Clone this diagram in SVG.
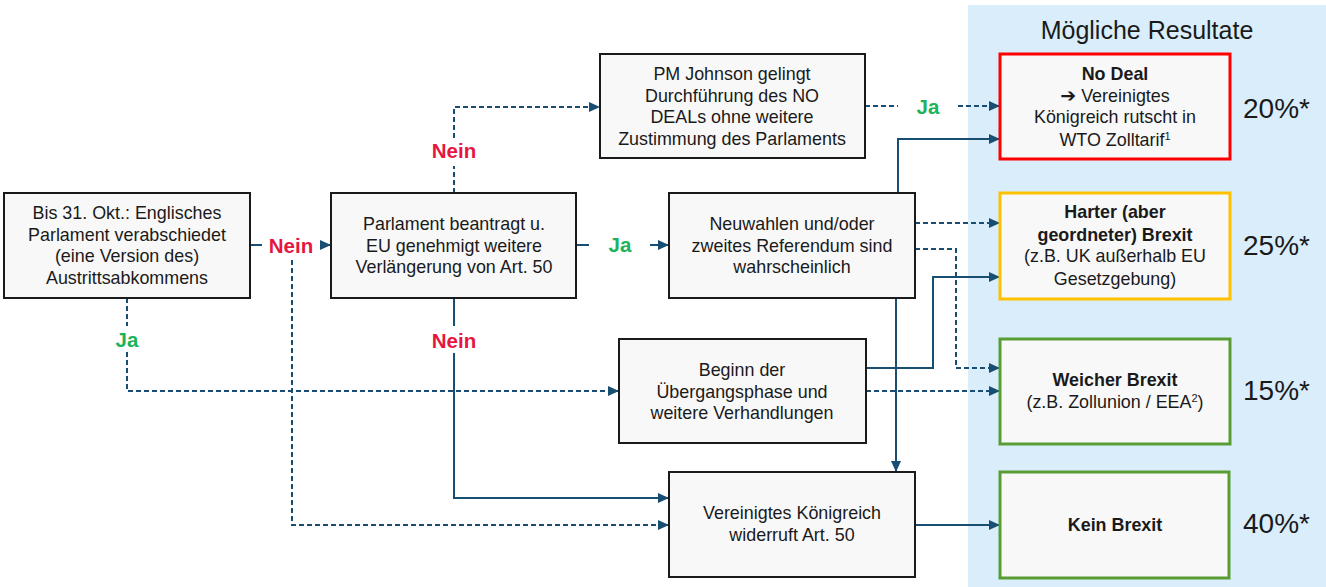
<svg xmlns="http://www.w3.org/2000/svg" width="1326" height="587" viewBox="0 0 1326 587">
<style>
  .box { fill: #f8f8f8; stroke: #1a1a1a; stroke-width: 2; }
  .t { font-family: "Liberation Sans", Arial, sans-serif; font-size: 17.9px; fill: #1a1a1a; text-anchor: middle; }
  .b { font-weight: bold; }
  .pct { font-family: "Liberation Sans", Arial, sans-serif; font-size: 28px; fill: #1a1a1a; }
  .c { fill: none; stroke: #174e72; stroke-width: 2; }
  .d { stroke-dasharray: 5 3; }
  .nein { font-family: "Liberation Sans", Arial, sans-serif; font-size: 20.5px; font-weight: bold; fill: #e5173f; text-anchor: middle; }
  .ja { font-family: "Liberation Sans", Arial, sans-serif; font-size: 20.5px; font-weight: bold; fill: #1db35a; text-anchor: middle; }
</style>
<defs>
  <marker id="ah" markerUnits="userSpaceOnUse" markerWidth="12" markerHeight="12" refX="11" refY="6" orient="auto">
    <path d="M0,1 L11,6 L0,11 z" fill="#174e72"/>
  </marker>
</defs>
<rect x="0" y="0" width="1326" height="587" fill="#ffffff"/>
<rect id="panel" x="968" y="5" width="358" height="582" fill="#d9eefa"/>
<text class="t" x="1147" y="39" style="font-size:25px">Mögliche Resultate</text>

<g id="connectors">
  <path class="c" d="M250,245 H262"/>
  <path class="c" d="M320,245 H331" marker-end="url(#ah)"/>
  <path class="c d" d="M292,260 V525 H669" marker-end="url(#ah)"/>
  <path class="c d" d="M127,298 V326"/>
  <path class="c d" d="M127,352 V391 H619" marker-end="url(#ah)"/>
  <path class="c d" d="M454,193 V166"/>
  <path class="c d" d="M454,138 V107 H600" marker-end="url(#ah)"/>
  <path class="c" d="M454,298 V326"/>
  <path class="c" d="M454,353 V498 H669" marker-end="url(#ah)"/>
  <path class="c" d="M576,245 H589"/>
  <path class="c" d="M650,245 H669" marker-end="url(#ah)"/>
  <path class="c d" d="M865,106 H898"/>
  <path class="c d" d="M958,106 H1000" marker-end="url(#ah)"/>
  <path class="c" d="M898,193 V139 H1000" marker-end="url(#ah)"/>
  <path class="c d" d="M915,223 H1000" marker-end="url(#ah)"/>
  <path class="c d" d="M915,249 H956 V368 H1000" marker-end="url(#ah)"/>
  <path class="c" d="M866,368 H933 V277 H1000" marker-end="url(#ah)"/>
  <path class="c d" d="M866,391 H1000" marker-end="url(#ah)"/>
  <path class="c" d="M896,298 V472" marker-end="url(#ah)"/>
  <path class="c" d="M915,525 H1000" marker-end="url(#ah)"/>
  <text class="nein" x="291" y="253">Nein</text>
  <text class="nein" x="454" y="158">Nein</text>
  <text class="nein" x="454" y="348">Nein</text>
  <text class="ja" x="127" y="347">Ja</text>
  <text class="ja" x="620" y="252">Ja</text>
  <text class="ja" x="928" y="114">Ja</text>
</g>

<g id="n-start">
  <rect class="box" x="4" y="193" width="246" height="105"/>
  <text class="t" x="127" y="219">Bis 31. Okt.: Englisches</text>
  <text class="t" x="127" y="241">Parlament verabschiedet</text>
  <text class="t" x="127" y="262">(eine Version des)</text>
  <text class="t" x="127" y="284">Austrittsabkommens</text>
</g>
<g id="n-verlaengerung">
  <rect class="box" x="331" y="193" width="245" height="105"/>
  <text class="t" x="454" y="230">Parlament beantragt u.</text>
  <text class="t" x="454" y="252">EU genehmigt weitere</text>
  <text class="t" x="454" y="273">Verlängerung von Art. 50</text>
</g>
<g id="n-johnson">
  <rect class="box" x="600" y="54" width="265" height="104"/>
  <text class="t" x="732" y="80">PM Johnson gelingt</text>
  <text class="t" x="732" y="102">Durchführung des NO</text>
  <text class="t" x="732" y="123">DEALs ohne weitere</text>
  <text class="t" x="732" y="145">Zustimmung des Parlaments</text>
</g>
<g id="n-neuwahlen">
  <rect class="box" x="669" y="193" width="246" height="105"/>
  <text class="t" x="792" y="230">Neuwahlen und/oder</text>
  <text class="t" x="792" y="252">zweites Referendum sind</text>
  <text class="t" x="792" y="273">wahrscheinlich</text>
</g>
<g id="n-uebergang">
  <rect class="box" x="619" y="339" width="247" height="104"/>
  <text class="t" x="742" y="376">Beginn der</text>
  <text class="t" x="742" y="398">Übergangsphase und</text>
  <text class="t" x="742" y="419">weitere Verhandlungen</text>
</g>
<g id="n-widerruf">
  <rect class="box" x="669" y="472" width="246" height="105"/>
  <text class="t" x="792" y="519">Vereinigtes Königreich</text>
  <text class="t" x="792" y="541">widerruft Art. 50</text>
</g>

<g id="o-nodeal">
  <rect x="1000" y="54" width="230" height="105" fill="#f8f8f8" stroke="#ff0000" stroke-width="3"/>
  <text class="t b" x="1115" y="80">No Deal</text>
  <text class="t" x="1115" y="102"><tspan font-family="DejaVu Sans, sans-serif" font-weight="bold" font-size="19">➔</tspan> Vereinigtes</text>
  <text class="t" x="1115" y="123">Königreich rutscht in</text>
  <text class="t" x="1115" y="146">WTO Zolltarif<tspan font-size="11" baseline-shift="super">1</tspan></text>
  <text class="pct" x="1243" y="118">20%*</text>
</g>
<g id="o-hart">
  <rect x="1000" y="193" width="230" height="106" fill="#f8f8f8" stroke="#ffc000" stroke-width="3"/>
  <text class="t b" x="1115" y="218">Harter (aber</text>
  <text class="t b" x="1115" y="241">geordneter) Brexit</text>
  <text class="t" x="1115" y="262">(z.B. UK außerhalb EU</text>
  <text class="t" x="1115" y="285">Gesetzgebung)</text>
  <text class="pct" x="1243" y="255">25%*</text>
</g>
<g id="o-weich">
  <rect x="1000" y="339" width="230" height="105" fill="#f8f8f8" stroke="#589d34" stroke-width="3"/>
  <text class="t b" x="1115" y="386">Weicher Brexit</text>
  <text class="t" x="1115" y="408">(z.B. Zollunion / EEA<tspan font-size="11" baseline-shift="super">2</tspan>)</text>
  <text class="pct" x="1243" y="400">15%*</text>
</g>
<g id="o-kein">
  <rect x="1000" y="472" width="229" height="106" fill="#f8f8f8" stroke="#589d34" stroke-width="3"/>
  <text class="t b" x="1115" y="531">Kein Brexit</text>
  <text class="pct" x="1243" y="533">40%*</text>
</g>
</svg>
